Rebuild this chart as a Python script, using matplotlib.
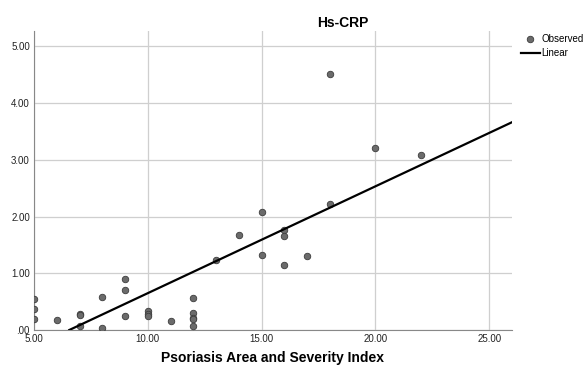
import numpy as np
import matplotlib.pyplot as plt

plt.rcParams['font.family'] = ['Liberation Sans', 'DejaVu Sans']

# PASI score vs Hs-CRP
pasi = [5, 5, 5, 6, 7, 7, 7, 8, 8, 9, 9, 9, 10, 10, 10, 11,
        12, 12, 12, 12, 12, 13, 14, 15, 15, 16, 16, 16, 17, 18, 18, 20, 22]
crp = [0.55, 0.37, 0.20, 0.18, 0.29, 0.27, 0.07, 0.59, 0.04, 0.90, 0.70, 0.24,
       0.33, 0.28, 0.25, 0.16, 0.56, 0.30, 0.22, 0.20, 0.07, 1.24, 1.67, 2.08,
       1.33, 1.77, 1.65, 1.14, 1.31, 4.51, 2.22, 3.20, 3.08]

xticks = [5, 10, 15, 20, 25]
yticks = [0, 1, 2, 3, 4, 5]

slope, intercept = np.polyfit(pasi, crp, 1)
x0 = -intercept / slope
xs = np.array([x0, 26])

fig = plt.figure(figsize=(5.87, 3.65), dpi=100)
ax = fig.add_axes([0.0579, 0.0959, 0.8143, 0.8192])

ax.grid(True, color="#cfcfcf", linewidth=0.9)
ax.set_axisbelow(True)
ax.scatter(pasi, crp, s=22, color="#6b6b6b", edgecolor="#3c3c3c", linewidth=0.6,
           zorder=3, label="Observed")
ax.plot(xs, slope * xs + intercept, color="black", linewidth=1.6, zorder=4, label="Linear")

ax.set_xlim(5, 26)
ax.set_ylim(0, 5.27)
ax.set_xticks(xticks)
ax.set_xticklabels(["%.2f" % v for v in xticks])
ax.set_yticks(yticks)
ax.set_yticklabels([("%.2f" % v).lstrip("0") if v == 0 else "%.2f" % v for v in yticks])
ax.tick_params(length=0, labelsize=7, colors="#222222", pad=3)
ax.spines["top"].set_visible(False)
ax.spines["right"].set_visible(False)
ax.spines["left"].set_color("#888888")
ax.spines["bottom"].set_color("#888888")

fig.text(0.584, 0.937, "Hs-CRP", ha="center", va="center", fontsize=10, fontweight="bold")
fig.text(0.465, 0.018, "Psoriasis Area and Severity Index", ha="center", va="center",
         fontsize=10, fontweight="bold")

ax.legend(loc="upper left", bbox_to_anchor=(0.887, 0.908), bbox_transform=fig.transFigure,
          frameon=False, fontsize=7, handlelength=2.0, handletextpad=0.1,
          labelspacing=0.45, borderaxespad=0, borderpad=0)

fig.savefig("out.png", dpi=100)
